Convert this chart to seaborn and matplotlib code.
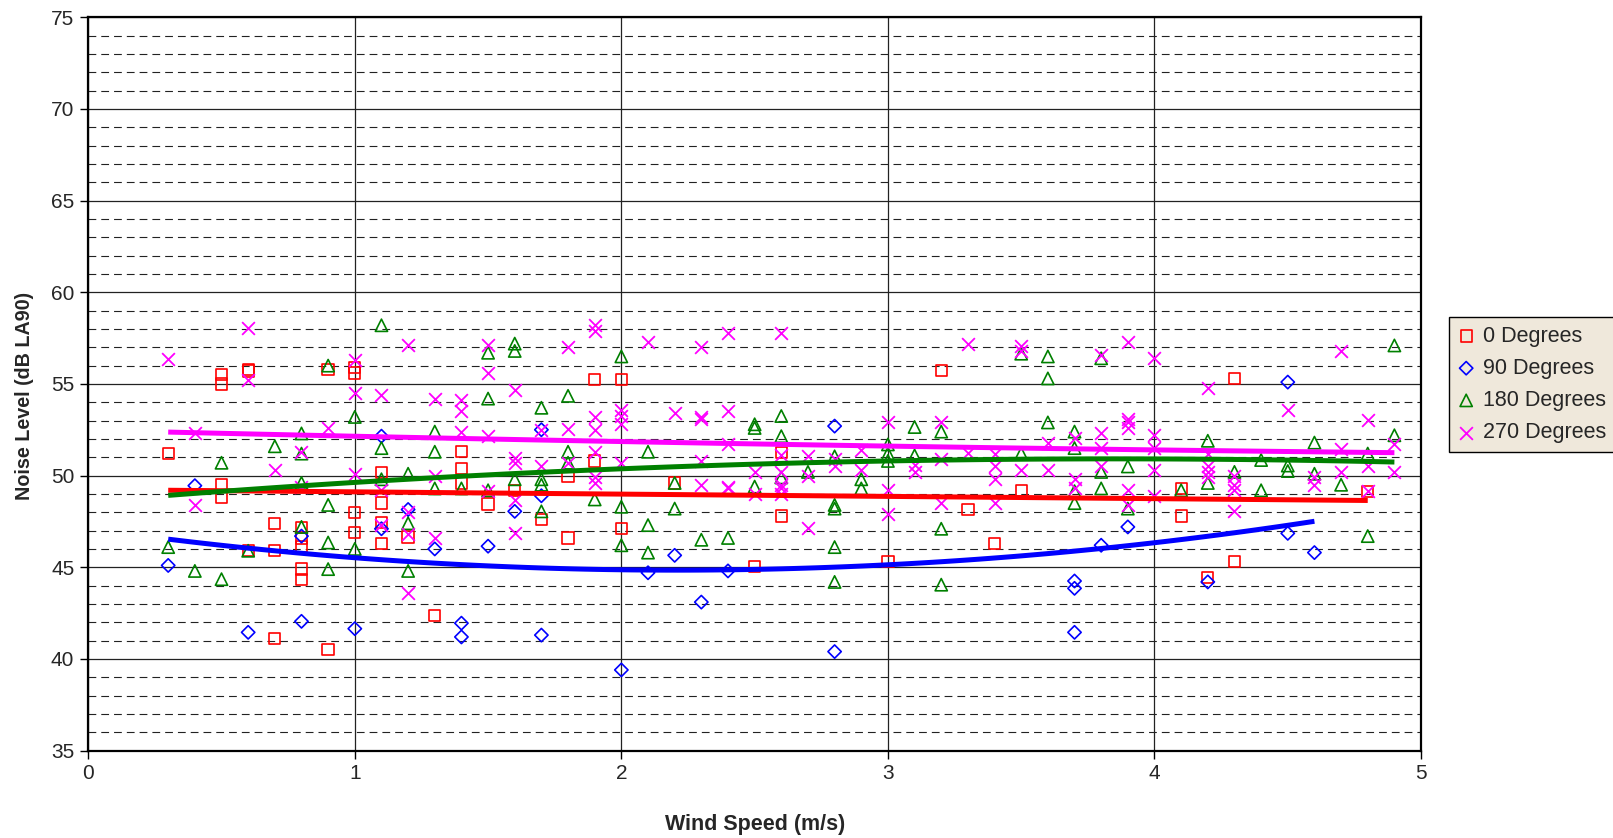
import numpy as np
import pandas as pd
import matplotlib.pyplot as plt
import seaborn as sns
from matplotlib.ticker import MultipleLocator

# Wind speed (m/s) and noise level (dB LA90), one pair of lists per direction
deg0_x = [0.3, 0.5, 0.5, 0.5, 0.5, 0.6, 0.6, 0.6, 0.7, 0.7, 0.7,
          0.8, 0.8, 0.8, 0.8, 0.8, 0.9, 0.9, 1.0, 1.0, 1.0, 1.0,
          1.1, 1.1, 1.1, 1.1, 1.2, 1.3, 1.4, 1.4, 1.4, 1.5, 1.6, 1.7,
          1.8, 1.8, 1.9, 1.9, 2.0, 2.0, 2.2, 2.5, 2.6, 2.6, 3.0, 3.2,
          3.3, 3.4, 3.5, 4.1, 4.1, 4.2, 4.3, 4.3, 4.8]
deg0_y = [51.2, 55.5, 55.0, 49.5, 48.8, 55.8, 55.7, 45.9, 47.4, 45.9, 41.1,
          47.15, 46.6, 46.15, 44.9, 44.35, 55.8, 40.5, 55.9, 55.6, 48.0, 46.9,
          50.15, 48.5, 47.45, 46.3, 46.65, 42.35, 51.3, 50.4, 49.6, 48.45, 49.2, 47.6,
          49.95, 46.6, 55.25, 50.8, 55.25, 47.1, 49.6, 45.05, 51.25, 47.8, 45.3, 55.75,
          48.15, 46.3, 49.2, 49.3, 47.8, 44.45, 55.3, 45.3, 49.15]

deg90_x = [0.3, 0.4, 0.6, 0.8, 0.8, 1.0, 1.1, 1.1, 1.2, 1.3, 1.4, 1.4,
           1.5, 1.6, 1.7, 1.7, 1.7, 2.0, 2.1, 2.2, 2.3, 2.4, 2.8, 2.8,
           3.7, 3.7, 3.7, 3.8, 3.9, 4.2, 4.5, 4.5, 4.6]
deg90_y = [45.1, 49.45, 41.45, 46.7, 42.05, 41.65, 52.15, 47.1, 48.15, 46.0, 41.95, 41.2,
           46.15, 48.05, 52.5, 48.9, 41.3, 39.4, 44.7, 45.65, 43.1, 44.8, 52.7, 40.4,
           44.25, 43.85, 41.45, 46.2, 47.2, 44.2, 55.1, 46.85, 45.8]

deg180_x = [0.3, 0.4, 0.5, 0.5, 0.6, 0.7, 0.8, 0.8, 0.8, 0.8,
            0.9, 0.9, 0.9, 0.9, 1.0, 1.0, 1.1, 1.1, 1.1, 1.2, 1.2, 1.2,
            1.3, 1.3, 1.3, 1.4, 1.5, 1.5, 1.5, 1.6, 1.6, 1.6,
            1.7, 1.7, 1.7, 1.7, 1.8, 1.8, 1.8, 1.9, 2.0, 2.0, 2.0,
            2.1, 2.1, 2.1, 2.2, 2.2, 2.3, 2.4, 2.5, 2.5, 2.5,
            2.6, 2.6, 2.6, 2.7, 2.8, 2.8, 2.8, 2.8, 2.8, 2.9, 2.9,
            3.0, 3.0, 3.0, 3.1, 3.1, 3.2, 3.2, 3.2, 3.5, 3.5,
            3.6, 3.6, 3.6, 3.7, 3.7, 3.7, 3.7, 3.8, 3.8, 3.8, 3.9, 3.9,
            4.1, 4.2, 4.2, 4.3, 4.4, 4.4, 4.5, 4.5, 4.6, 4.6, 4.7,
            4.8, 4.8, 4.9, 4.9]
deg180_y = [46.1, 44.8, 50.7, 44.35, 45.9, 51.6, 52.3, 51.2, 49.6, 47.2,
            56.0, 48.4, 46.35, 44.9, 53.2, 46.0, 58.2, 51.5, 49.8, 50.1, 47.4, 44.8,
            52.4, 51.3, 49.3, 49.3, 56.7, 54.2, 49.2, 57.2, 56.8, 49.8,
            53.7, 49.8, 49.5, 48.05, 54.35, 51.3, 50.7, 48.7, 56.5, 48.3, 46.2,
            51.3, 47.3, 45.8, 49.6, 48.2, 46.5, 46.6, 52.8, 52.6, 49.4,
            53.25, 52.15, 49.9, 50.2, 51.05, 48.4, 48.2, 46.1, 44.2, 49.8, 49.3,
            51.7, 51.2, 50.8, 52.65, 51.1, 52.4, 47.1, 44.05, 56.65, 51.2,
            56.5, 55.3, 52.9, 52.4, 51.5, 49.15, 48.5, 56.4, 50.2, 49.3, 50.5, 48.2,
            49.2, 51.9, 49.6, 50.2, 50.85, 49.2, 50.55, 50.25, 51.8, 50.1, 49.5,
            51.2, 46.7, 57.1, 52.2]

deg270_x = [0.3, 0.4, 0.4, 0.6, 0.6, 0.7, 0.8, 0.8, 0.9,
            1.0, 1.0, 1.0, 1.1, 1.1, 1.1, 1.2, 1.2, 1.2, 1.2,
            1.3, 1.3, 1.3, 1.4, 1.4, 1.4, 1.5, 1.5, 1.5, 1.5,
            1.6, 1.6, 1.6, 1.6, 1.6, 1.7, 1.7, 1.8, 1.8, 1.8,
            1.9, 1.9, 1.9, 1.9, 1.9, 1.9, 1.9, 2.0, 2.0, 2.0, 2.0,
            2.1, 2.2, 2.3, 2.3, 2.3, 2.3, 2.3, 2.4, 2.4, 2.4, 2.4, 2.4,
            2.5, 2.5, 2.6, 2.6, 2.6, 2.6, 2.6, 2.6, 2.7, 2.7, 2.7,
            2.8, 2.8, 2.9, 2.9, 3.0, 3.0, 3.0, 3.1, 3.1, 3.2, 3.2, 3.2,
            3.3, 3.3, 3.4, 3.4, 3.4, 3.4, 3.5, 3.5, 3.5, 3.6, 3.6,
            3.7, 3.7, 3.7, 3.8, 3.8, 3.8, 3.8, 3.9, 3.9, 3.9, 3.9, 3.9, 3.9,
            4.0, 4.0, 4.0, 4.0, 4.0, 4.2, 4.2, 4.2, 4.2, 4.2,
            4.3, 4.3, 4.3, 4.3, 4.5, 4.6, 4.6, 4.7, 4.7, 4.7,
            4.8, 4.8, 4.8, 4.9, 4.9]
deg270_y = [56.35, 52.3, 48.4, 58.05, 55.2, 50.3, 51.3, 49.4, 52.6,
            56.3, 54.5, 50.1, 54.4, 49.2, 47.3, 57.1, 48.0, 46.8, 43.6,
            54.2, 50.0, 46.6, 54.15, 53.5, 52.4, 57.15, 55.6, 52.15, 49.15,
            54.65, 50.95, 50.7, 48.65, 46.85, 52.5, 50.55, 57.0, 52.55, 50.7,
            58.2, 57.9, 53.2, 52.5, 51.3, 49.95, 49.6, 53.6, 53.25, 52.8, 50.7,
            57.3, 53.4, 57.0, 53.2, 53.1, 50.8, 49.5, 57.8, 53.5, 51.7, 49.4, 49.3,
            50.2, 49.0, 57.8, 51.15, 50.2, 49.5, 49.3, 49.0, 51.05, 50.0, 47.15,
            50.9, 50.5, 51.4, 50.3, 52.95, 49.2, 47.9, 50.6, 50.2, 52.9, 50.9, 48.5,
            57.2, 51.25, 51.2, 50.5, 49.8, 48.5, 57.05, 56.8, 50.3, 51.8, 50.3,
            52.05, 49.8, 49.3, 56.6, 52.3, 51.5, 50.5, 57.3, 53.1, 52.9, 52.6, 49.2, 48.4,
            56.4, 52.2, 51.5, 50.3, 48.9, 54.8, 51.2, 50.5, 50.2, 49.9,
            50.0, 49.5, 49.2, 48.05, 53.6, 49.9, 49.5, 56.8, 51.45, 50.2,
            53.05, 50.5, 49.15, 51.7, 50.2]

labels = ['0 Degrees', '90 Degrees', '180 Degrees', '270 Degrees']
colors = ['#FF0000', '#0000FF', '#008000', '#FF00FF']
markers = ['s', 'D', '^', 'x']
sizes = [66, 46, 78, 84]
# trendline order per series (0 degrees looks close to straight)
orders = [1, 2, 2, 2]

frames = []
for lab, xs, ys in zip(labels, [deg0_x, deg90_x, deg180_x, deg270_x],
                       [deg0_y, deg90_y, deg180_y, deg270_y]):
    frames.append(pd.DataFrame({'wind': xs, 'noise': ys, 'direction': lab}))
df = pd.concat(frames, ignore_index=True)

sns.set_style('white')
plt.rcParams['font.family'] = ['Liberation Sans', 'DejaVu Sans']

fig = plt.figure(figsize=(16.13, 8.38), dpi=100)
ax = fig.add_axes([0.0547, 0.1043, 0.8263, 0.8751])

for lab, col, mk, sz, od in zip(labels, colors, markers, sizes, orders):
    sub = df[df['direction'] == lab]
    if mk == 'x':
        skw = {'color': col, 's': sz, 'linewidths': 1.3, 'alpha': 1, 'zorder': 3}
    else:
        skw = {'facecolors': 'none', 'edgecolors': col, 's': sz,
               'linewidths': 1.2, 'alpha': 1, 'zorder': 3}
    sns.regplot(data=sub, x='wind', y='noise', order=od, ci=None, ax=ax,
                marker=mk, label=lab, color=col, scatter_kws=skw,
                line_kws={'color': col, 'lw': 3.6, 'zorder': 4,
                          'solid_capstyle': 'butt'})

ax.set_xlim(0, 5)
ax.set_ylim(35, 75)
ax.xaxis.set_major_locator(MultipleLocator(1))
ax.yaxis.set_major_locator(MultipleLocator(5))
ax.yaxis.set_minor_locator(MultipleLocator(1))

ax.grid(True, which='major', axis='both', color='#222222', lw=0.9, zorder=1)
ax.grid(True, which='minor', axis='y', color='#222222', lw=0.8,
        linestyle=(0, (7, 4.5)), zorder=1)
ax.set_axisbelow(True)

ax.tick_params(axis='both', which='major', direction='out', length=6, width=1,
               color='black', labelsize=15, pad=4, left=True, bottom=True)
ax.tick_params(axis='both', which='minor', length=0)
for s in ax.spines.values():
    s.set_color('black')
    s.set_linewidth(1.6)

ax.set_xlabel('Wind Speed (m/s)', fontsize=15.5, fontweight='bold')
ax.set_ylabel('Noise Level (dB LA90)', fontsize=14.2, fontweight='bold')
ax.xaxis.set_label_coords(0.5, -0.087)
ax.yaxis.set_label_coords(-0.0405, 0.484)

leg = ax.legend(loc='upper left', bbox_to_anchor=(0.8983, 0.6217),
                bbox_transform=fig.transFigure, borderaxespad=0, fontsize=15.5,
                frameon=True, fancybox=False, shadow=False, handlelength=0.8,
                handletextpad=0.4, labelspacing=0.52, borderpad=0.4)
leg.get_frame().set_facecolor('#EFE8DB')
leg.get_frame().set_edgecolor('black')
leg.get_frame().set_linewidth(1.0)
leg.get_frame().set_alpha(1)

fig.savefig('out.png', dpi=100)
